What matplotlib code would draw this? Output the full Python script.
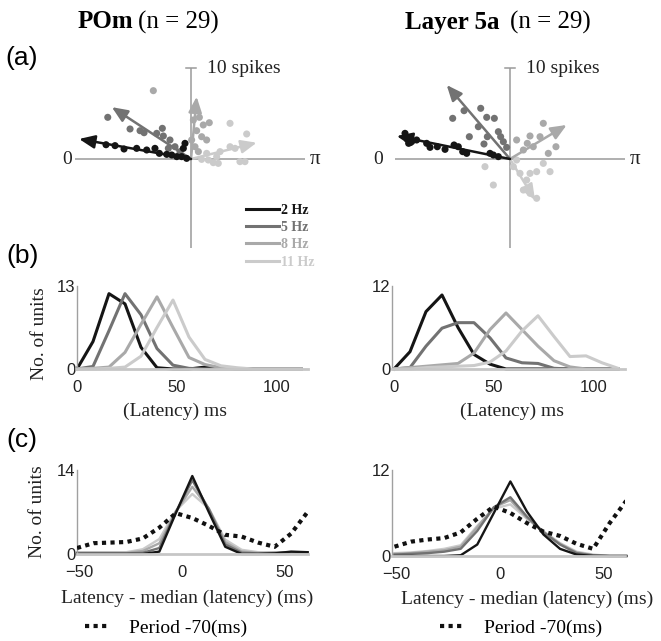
import numpy as np
import matplotlib
matplotlib.use('Agg')
import matplotlib.pyplot as plt

plt.rcParams['font.family'] = 'Liberation Sans'
SERIF = 'Liberation Serif'

W, H = 661, 641
C2, C5, C8, C11 = '#151515', '#727272', '#a9a9a9', '#cbcbcb'
freq_labels = ['2 Hz', '5 Hz', '8 Hz', '11 Hz']
freq_colors = [C2, C5, C8, C11]

# ---- (a) phase vectors, x/y components in spikes ----
pom_dots = {
    '2 Hz': ([-9.34, -8.35, -7.36, -5.97, -4.87, -3.96, -3.48, -2.67, -2.12, -1.57, -1.03, -0.66, -0.84, -0.48],
             [1.57, 1.47, 1.10, 1.17, 0.99, 1.17, 0.62, 0.51, 0.44, 0.26, 0.26, 1.72, 1.17, 0.07]),
    '5 Hz': ([-9.15, -6.70, -5.60, -5.16, -3.15, -3.04, -2.31, -1.76, -1.21, -2.49, -3.77],
             [4.58, 3.30, 3.11, 2.89, 3.37, 2.53, 2.09, 1.35, 0.81, 1.17, 2.82]),
    '8 Hz': ([-4.14, 0.26, 0.92, 1.35, 2.01, 0.62, 1.17, 1.72, 0.44, 0.81, 0.07],
             [7.51, 4.29, 4.58, 3.74, 3.99, 3.11, 2.45, 2.09, 1.35, 0.81, 2.09]),
    '11 Hz': ([4.29, 6.12, 4.29, 4.84, 3.19, 2.82, 1.90, 2.45, 5.38, 5.93, 3.00, 1.17, 1.72],
              [3.92, 2.75, 1.35, 1.17, 0.81, 0.26, -0.11, -0.40, -0.29, -0.29, -0.48, -0.04, 0.62]),
}
pom_mean = {'2 Hz': (-12.3, 2.2), '5 Hz': (-8.7, 5.7), '8 Hz': (0.62, 6.85), '11 Hz': (7.22, 1.79)}

l5_dots = {
    '2 Hz': ([-11.54, -11.28, -10.81, -10.26, -9.16, -8.79, -7.99, -7.14, -6.15, -5.68, -5.20, -4.76, -2.20, -1.83, -1.28, -11.14],
             [2.82, 2.16, 1.90, 2.09, 1.72, 1.28, 1.35, 1.06, 1.54, 1.35, 0.81, 0.62, 0.62, 0.44, 0.26, 1.72]),
    '5 Hz': ([-6.30, -5.05, -3.22, -2.56, -1.72, -4.47, -3.48, -2.49, -1.28, -1.03, -2.86, -0.73, -0.37],
             [4.47, 5.31, 5.57, 4.58, 4.47, 2.45, 3.55, 2.45, 3.00, 2.45, 1.65, 1.90, 1.28]),
    '8 Hz': ([3.66, 2.20, 3.30, 2.56, 5.05, 0.73, 1.47, 1.90, 4.21],
             [3.92, 2.53, 2.45, 1.35, 1.35, 2.09, 0.99, 1.72, 0.62]),
    '11 Hz': ([-2.75, -1.83, 0.37, 1.10, 1.83, 2.20, 2.93, 4.40, 3.66, 0.73, 1.47, 2.93, 2.20],
              [-0.84, -2.86, -0.84, -1.58, -2.31, -1.58, -1.39, -1.39, -0.48, -0.11, -3.41, -4.32, -3.77]),
}
l5_mean = {'2 Hz': (-12.45, 2.53), '5 Hz': (-6.96, 8.13), '8 Hz': (6.23, 3.74), '11 Hz': (2.75, -4.51)}

# ---- (b) latency histograms ----
lat_bins = [0, 8, 16, 24, 32, 40, 48, 56, 64, 72, 80, 88, 96, 104, 112]
pom_lat = {
    '2 Hz': [0, 4.3, 11.8, 10.2, 3.4, 0.2, 0, 0, 0.3, 0.2, 0, 0, 0, 0, 0],
    '5 Hz': [0, 0.4, 6.0, 11.8, 8.5, 3.2, 0.6, 0.1, 0, 0, 0, 0, 0, 0, 0],
    '8 Hz': [0, 0.1, 0.3, 2.6, 7.0, 11.3, 6.5, 1.8, 0.7, 0.2, 0, 0, 0, 0, 0],
    '11 Hz': [0, 0, 0.1, 0.3, 2.0, 6.5, 10.8, 5.0, 1.5, 0.5, 0.2, 0, 0, 0, 0],
}
l5_lat = {
    '2 Hz': [0, 2.5, 8.3, 10.7, 6.0, 2.1, 0.7, 0, 0, 0, 0, 0, 0, 0, 0],
    '5 Hz': [0, 0.2, 3.3, 5.9, 6.7, 6.7, 4.5, 1.6, 0.9, 0.8, 0.1, 0, 0, 0, 0],
    '8 Hz': [0, 0.2, 0.4, 0.6, 0.8, 2.3, 5.7, 8.1, 5.7, 3.3, 1.2, 0.3, 0, 0, 0],
    '11 Hz': [0, 0, 0.2, 0.3, 0.4, 0.5, 1.0, 2.6, 5.5, 7.7, 4.7, 1.8, 1.9, 0.9, 0.1],
}

# ---- (c) latency minus median ----
rel_bins = [-51, -43, -35, -27, -19, -11, -3, 5, 13, 21, 29, 37, 45, 53, 61]
pom_rel = {
    '2 Hz': [0, 0, 0, 0, 0, 0.4, 6.8, 13.0, 7.0, 1.2, 0, 0, 0.1, 0.4, 0.3],
    '5 Hz': [0.1, 0.1, 0.1, 0.1, 0.2, 1.0, 7.0, 12.3, 7.5, 1.6, 0.2, 0.1, 0.2, 0.3, 0.3],
    '8 Hz': [0.2, 0.2, 0.2, 0.2, 0.5, 1.8, 7.0, 11.2, 7.6, 2.0, 0.4, 0.2, 0.2, 0.2, 0.2],
    '11 Hz': [0.3, 0.3, 0.3, 0.3, 0.8, 2.5, 7.2, 10.0, 7.6, 2.4, 0.7, 0.3, 0.2, 0.2, 0.2],
}
pom_period = [1.0, 1.8, 1.9, 2.0, 2.6, 4.4, 6.8, 6.0, 4.7, 3.2, 2.9, 1.9, 1.2, 3.4, 7.0]
l5_rel = {
    '2 Hz': [0, 0, 0, 0, 0.1, 1.6, 6.0, 10.4, 6.2, 3.0, 1.0, 0.2, 0, 0, 0],
    '5 Hz': [0.2, 0.3, 0.4, 0.6, 1.0, 3.5, 6.8, 8.2, 5.5, 3.3, 1.6, 0.4, 0.1, 0, 0],
    '8 Hz': [0.3, 0.4, 0.6, 0.8, 1.3, 4.0, 6.8, 7.8, 5.3, 3.4, 1.7, 0.5, 0.1, 0, 0],
    '11 Hz': [0.4, 0.5, 0.7, 1.0, 1.5, 4.2, 6.6, 7.2, 5.2, 3.4, 1.8, 0.6, 0.2, 0, 0],
}
l5_period = [1.3, 2.0, 2.3, 2.5, 3.3, 5.2, 6.9, 6.0, 4.6, 3.4, 2.8, 1.7, 1.0, 4.6, 7.7]


fig = plt.figure(figsize=(W / 100, H / 100), dpi=100)


def px_axes(l, t, r, b):
    return fig.add_axes([l / W, 1 - b / H, (r - l) / W, (b - t) / H])


def ftext(x, y, s, **kw):
    fig.text(x / W, 1 - y / H, s, **kw)


def vector_panel(rect, xlim, ylim, dots, means, zero_gap):
    ax = px_axes(*rect)
    ax.set_xlim(*xlim)
    ax.set_ylim(*ylim)
    ax.axis('off')
    ax.plot(xlim, [0, 0], color='#9a9a9a', lw=1.1, solid_capstyle='butt')
    ax.plot([0, 0], [-9.8, 10], color='#9a9a9a', lw=1.1, solid_capstyle='butt')
    ax.plot([-0.5, 0.5], [10, 10], color='#9a9a9a', lw=1.1)
    ax.text(1.8, 10, '10 spikes', family=SERIF, fontsize=14, va='center', ha='left', color='#222')
    ax.text(xlim[0] - zero_gap, 0, '0', family=SERIF, fontsize=14, va='center', ha='right', color='#222')
    ax.text(xlim[1] + 0.5, 0, 'π', family=SERIF, fontsize=15, va='center', ha='left', color='#222')
    for lab, col, z in zip(freq_labels[::-1], freq_colors[::-1], [2, 3, 4, 5]):
        xs, ys = dots[lab]
        ax.scatter(xs, ys, s=26, color=col, edgecolors='none', zorder=z)
        ax.annotate('', xy=means[lab], xytext=(0, 0), zorder=z,
                    arrowprops=dict(arrowstyle='-|>,head_length=0.47,head_width=0.2',
                                    color=col, lw=1.8, shrinkA=0, shrinkB=0,
                                    mutation_scale=20))
    return ax


vector_panel((75, 60, 305, 250), (-12.75, 12.53), (-10.0, 10.88), pom_dots, pom_mean, 0.35)
vector_panel((395, 60, 625, 250), (-12.64, 12.64), (-10.0, 10.88), l5_dots, l5_mean, 1.3)


def style_hist(ax, xticks, ytop):
    ax.set_ylim(0, ytop)
    ax.set_xticks(xticks)
    ax.set_yticks([0, ytop])
    ax.tick_params(length=0, labelsize=12, colors='#222')
    ax.tick_params(axis='x', pad=8)
    ax.tick_params(axis='y', pad=1)
    for s in ['top', 'right']:
        ax.spines[s].set_visible(False)
    ax.spines['left'].set_color('#a0a0a0')
    ax.spines['left'].set_linewidth(1.0)
    ax.spines['bottom'].set_color('#c6c6c6')
    ax.spines['bottom'].set_linewidth(2.0)


# ---- (b) ----
axb1 = px_axes(77, 286, 308, 369)
axb1.set_xlim(0, 115.5)
lines_b = []
for lab, col in zip(freq_labels, freq_colors):
    ln, = axb1.plot(lat_bins, pom_lat[lab], color=col, lw=2.2, label=lab, clip_on=False)
    lines_b.append(ln)
style_hist(axb1, [0, 50, 100], 13)
axb1.set_ylabel('No. of units', family=SERIF, fontsize=14, color='#222')
axb1.yaxis.set_label_coords(-0.126, 0.43)
axb1.set_xlabel('(Latency) ms', family=SERIF, fontsize=14, color='#222')
axb1.xaxis.set_label_coords(0.424, -0.41)

axb2 = px_axes(392, 286, 625, 369)
axb2.set_xlim(-1, 115.5)
for lab, col in zip(freq_labels, freq_colors):
    axb2.plot(lat_bins, l5_lat[lab], color=col, lw=2.2, clip_on=False)
style_hist(axb2, [0, 50, 100], 12)
axb2.set_xlabel('(Latency) ms', family=SERIF, fontsize=14, color='#222')
axb2.xaxis.set_label_coords(0.515, -0.41)

leg = axb1.legend(handles=lines_b, loc='upper left', bbox_to_anchor=(246 / W, 1 - 204 / H),
                  bbox_transform=fig.transFigure, frameon=False, borderpad=0, borderaxespad=0,
                  handlelength=2.4, handletextpad=0.15, labelspacing=0.3,
                  prop={'family': SERIF, 'weight': 'bold', 'size': 10})
for t, col in zip(leg.get_texts(), freq_colors):
    t.set_color(col)

# ---- (c) ----
def rel_panel(rect, xlim, ytop, curves, period, xlab_x, xlab_y, leg_x):
    ax = px_axes(*rect)
    ax.set_xlim(*xlim)
    for lab, col in zip(freq_labels[::-1], freq_colors[::-1]):
        ax.plot(rel_bins, curves[lab], color=col, lw=1.7, clip_on=False)
    dl, = ax.plot(rel_bins, period, color='#111', lw=3.0, dashes=(1, 1.05),
                  dash_capstyle='butt', label='Period -70(ms)', zorder=5)
    style_hist(ax, [-50, 0, 50], ytop)
    ax.set_xlabel('Latency - median (latency) (ms)', family=SERIF, fontsize=14, color='#222')
    ax.xaxis.set_label_coords(xlab_x, xlab_y)
    ax.legend(handles=[dl], loc='center left', bbox_to_anchor=(leg_x / W, 1 - 628 / H),
              bbox_transform=fig.transFigure, frameon=False, borderpad=0, borderaxespad=0,
              handlelength=1.3, handletextpad=0.95,
              prop={'family': SERIF, 'size': 14})
    return ax


axc1 = rel_panel((77, 470, 308, 554), (-51, 61.2), 14, pom_rel, pom_period, 0.476, -0.43, 85)
axc1.set_ylabel('No. of units', family=SERIF, fontsize=14, color='#222')
axc1.yaxis.set_label_coords(-0.134, 0.51)
rel_panel((392, 470, 625, 556), (-52.2, 60.4), 12, l5_rel, l5_period, 0.58, -0.40, 440)

# ---- titles and panel letters ----
ftext(133, 22, 'POm', family=SERIF, fontsize=18, weight='bold', ha='right', va='center')
ftext(138, 22, '(n = 29)', family=SERIF, fontsize=18, ha='left', va='center')
ftext(500, 22, 'Layer 5a', family=SERIF, fontsize=18, weight='bold', ha='right', va='center')
ftext(510, 22, '(n = 29)', family=SERIF, fontsize=18, ha='left', va='center')
ftext(5, 58, '(a)', fontsize=19, ha='left', va='center')
ftext(6, 256, '(b)', fontsize=19, ha='left', va='center')
ftext(6, 440, '(c)', fontsize=19, ha='left', va='center')

fig.savefig('out.png', dpi=100)
